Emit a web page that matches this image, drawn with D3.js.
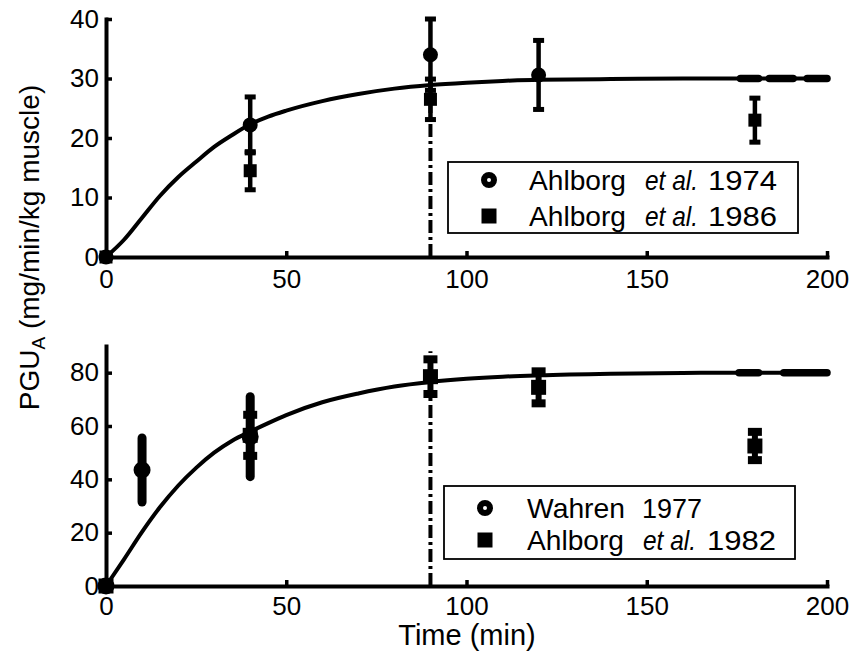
<!DOCTYPE html>
<html>
<head>
<meta charset="utf-8">
<script src="https://cdn.jsdelivr.net/npm/d3@7"></script>
<style>
  html, body { margin: 0; padding: 0; background: #fff; }
  svg { display: block; font-family: "Liberation Sans", Arial, Helvetica, sans-serif; }
</style>
</head>
<body>
<svg id="chart" width="855" height="656"></svg>
<script>
// Model time grid (min) and the two fitted PGU_A curves
const timeGrid    = [0, 5, 10, 15, 20, 25, 30, 35, 40, 45, 50, 60, 70, 80, 90, 100, 110, 120, 140, 160, 180, 200];
const topModel    = [0, 2.9, 6.6, 10.3, 13.4, 16.0, 18.5, 20.5, 22.3, 23.6, 24.6, 26.2, 27.4, 28.3, 28.9, 29.3, 29.6, 29.8, 29.9, 30, 30, 30];
const bottomModel = [0, 10.0, 20.3, 29.6, 37.6, 44.3, 50.0, 54.5, 57.9, 61.1, 64.1, 68.9, 72.2, 74.8, 76.5, 77.7, 78.5, 79.0, 79.6, 79.9, 80, 80];

// Heavier stretches of the plateau line (min)
const topHeavy    = [[176, 181], [184, 190.6], [194.5, 200]];
const bottomHeavy = [[175.6, 181], [188, 200]];

// Exercise end marker (min)
const exerciseEnd = 90;

// Ahlborg et al. 1974 (top, circles)
const a74Time = [0, 40, 90, 120];
const a74Mean = [0, 22.2, 34.0, 30.6];
const a74Err  = [0, 4.7, 6.0, 5.8];

// Ahlborg et al. 1986 (top, squares)
const a86Time = [0, 40, 90, 180];
const a86Mean = [0, 14.5, 26.5, 23.0];
const a86Err  = [0, 3.2, 3.4, 3.7];

// Wahren 1977 (bottom, circles)
const w77Time = [0, 10, 40];
const w77Mean = [0, 43.5, 56.0];
const w77Err  = [0, 12.0, 15.0];

// Ahlborg et al. 1982 (bottom, squares)
const a82Time = [0, 40, 90, 120, 180];
const a82Mean = [0, 56.5, 78.5, 74.5, 52.5];
const a82Err  = [0, 7.7, 6.5, 6.0, 5.3];

const xTicks       = [0, 50, 100, 150, 200];
const topYTicks    = [0, 10, 20, 30, 40];
const bottomYTicks = [0, 20, 40, 60, 80];

const svg = d3.select("#chart");

const x = d3.scaleLinear().domain([0, 200]).range([106, 827]);
const yTop = d3.scaleLinear().domain([0, 40]).range([257, 19]);
const yBot = d3.scaleLinear().domain([0, 90]).range([586, 346]);

function zipSeries(t, m, e) {
  return t.map((d, i) => ({ t: d, v: m[i], e: e[i] }));
}

function drawPanel(cfg) {
  const g = svg.append("g");
  const y = cfg.y;
  const y1 = y.domain()[1];

  // dash-dot line at end of exercise
  g.append("line")
    .attr("x1", x(exerciseEnd)).attr("x2", x(exerciseEnd))
    .attr("y1", y(0)).attr("y2", y(cfg.dashTop))
    .attr("stroke", "#000").attr("stroke-width", 4)
    .attr("stroke-dasharray", "13,4,3,4");

  // model curve
  const pts = timeGrid.map((t, i) => [t, cfg.model[i]]);
  g.append("path")
    .datum(pts)
    .attr("fill", "none").attr("stroke", "#000").attr("stroke-width", 4)
    .attr("stroke-linejoin", "round")
    .attr("d", d3.line().x(d => x(d[0])).y(d => y(d[1])).curve(d3.curveMonotoneX));

  const plateau = cfg.model[cfg.model.length - 1];
  g.selectAll(".heavy").data(cfg.heavy).join("line")
    .attr("x1", d => x(d[0])).attr("x2", d => x(d[1]))
    .attr("y1", y(plateau)).attr("y2", y(plateau))
    .attr("stroke", "#000").attr("stroke-width", 7.5).attr("stroke-linecap", "round");

  // error bars
  cfg.series.forEach(s => {
    const data = zipSeries(s.t, s.m, s.e).filter(d => d.e > 0);
    const eb = g.append("g");
    eb.selectAll("line").data(data).join("line")
      .attr("x1", d => x(d.t)).attr("x2", d => x(d.t))
      .attr("y1", d => y(Math.min(d.v + d.e, y1))).attr("y2", d => y(d.v - d.e))
      .attr("stroke", "#000").attr("stroke-width", s.barW)
      .attr("stroke-linecap", s.capW ? "butt" : "round");
    if (s.capW) {
      const caps = data.flatMap(d => [Math.min(d.v + d.e, y1), d.v - d.e].map(v => ({ t: d.t, v })));
      eb.selectAll("rect").data(caps).join("rect")
        .attr("x", d => x(d.t) - s.capW / 2).attr("y", d => y(d.v) - s.capH / 2)
        .attr("width", s.capW).attr("height", s.capH)
        .attr("fill", "#000");
    }
  });

  // markers
  cfg.series.forEach(s => {
    const data = zipSeries(s.t, s.m, s.e);
    if (s.shape === "circle") {
      g.append("g").selectAll("circle").data(data).join("circle")
        .attr("cx", d => x(d.t)).attr("cy", d => y(d.v)).attr("r", s.size / 2)
        .attr("fill", "#000");
    } else {
      g.append("g").selectAll("rect").data(data).join("rect")
        .attr("x", d => x(d.t) - s.size / 2).attr("y", d => y(d.v) - s.size / 2)
        .attr("width", s.size).attr("height", s.size)
        .attr("fill", "#000");
    }
  });

  // axes
  const xAxis = d3.axisBottom(x).tickValues(xTicks).tickSize(-6).tickSizeOuter(0).tickPadding(cfg.xPad);
  const yAxis = d3.axisLeft(y).tickValues(cfg.yTicks).tickSize(-6).tickSizeOuter(0).tickPadding(7);

  const ax = g.append("g").attr("transform", `translate(0,${y(0)})`).call(xAxis);
  const ay = g.append("g").attr("transform", `translate(${x(0)},0)`).call(yAxis);
  [ax, ay].forEach(a => {
    a.select(".domain").attr("stroke", "#000").attr("stroke-width", 4).attr("stroke-linecap", "square");
    a.selectAll(".tick line").attr("stroke", "#000").attr("stroke-width", 3.5);
    a.selectAll(".tick text").attr("fill", "#000").style("font-size", "26px")
      .style("font-family", "'Liberation Sans', Arial, sans-serif");
  });

  // legend
  const L = cfg.legend;
  const lg = g.append("g");
  lg.append("rect")
    .attr("x", L.x).attr("y", L.y).attr("width", L.w).attr("height", L.h)
    .attr("fill", "#fff").attr("stroke", "#000").attr("stroke-width", 1.8);
  L.rows.forEach((r, i) => {
    const cy = L.rowY[i];
    if (r.shape === "circle") {
      lg.append("circle").attr("cx", L.markX).attr("cy", cy).attr("r", 5)
        .attr("fill", "#fff").attr("stroke", "#000").attr("stroke-width", 6);
    } else {
      lg.append("rect").attr("x", L.markX - 7.5).attr("y", cy - 7.5)
        .attr("width", 15).attr("height", 15).attr("fill", "#000");
    }
    const base = cy + 10;
    const txt = (xx, s, len, italic) => {
      const t = lg.append("text").attr("x", xx).attr("y", base).attr("font-size", 28).text(s)
        .attr("textLength", len).attr("lengthAdjust", "spacingAndGlyphs");
      if (italic) t.attr("font-style", "italic");
    };
    txt(L.textX, r.author, r.authorLen, false);
    if (r.etal) {
      txt(L.etalX, "et al.", 53, true);
      txt(L.yearX, r.year, 69, false);
    } else {
      txt(L.yearAltX, r.year, 60, false);
    }
  });
}

drawPanel({
  y: yTop, model: topModel, heavy: topHeavy, yTicks: topYTicks, xPad: 13, dashTop: 30,
  series: [
    { t: a74Time, m: a74Mean, e: a74Err, shape: "circle", size: 15, barW: 4.5, capW: 11, capH: 5 },
    { t: a86Time, m: a86Mean, e: a86Err, shape: "square", size: 13, barW: 4.5, capW: 11, capH: 5 }
  ],
  legend: {
    x: 448, y: 162, w: 350, h: 71, markX: 489, rowY: [180, 216],
    textX: 529, etalX: 645, yearX: 708, yearAltX: 642,
    rows: [
      { shape: "circle", author: "Ahlborg", authorLen: 97, etal: true, year: "1974" },
      { shape: "square", author: "Ahlborg", authorLen: 97, etal: true, year: "1986" }
    ]
  }
});

drawPanel({
  y: yBot, model: bottomModel, heavy: bottomHeavy, yTicks: bottomYTicks, xPad: 11, dashTop: 88,
  series: [
    { t: w77Time, m: w77Mean, e: w77Err, shape: "circle", size: 17, barW: 9, capW: 0, capH: 0 },
    { t: a82Time, m: a82Mean, e: a82Err, shape: "square", size: 15, barW: 6, capW: 14, capH: 8 }
  ],
  legend: {
    x: 444, y: 486, w: 351, h: 73, markX: 485, rowY: [508, 540],
    textX: 527, etalX: 643, yearX: 707, yearAltX: 642,
    rows: [
      { shape: "circle", author: "Wahren", authorLen: 98, etal: false, year: "1977" },
      { shape: "square", author: "Ahlborg", authorLen: 97, etal: true, year: "1982" }
    ]
  }
});

// shared axis titles
const yl = svg.append("text")
  .attr("transform", "translate(39,247.5) rotate(-90)")
  .attr("text-anchor", "middle").attr("font-size", 28);
yl.append("tspan").text("PGU");
yl.append("tspan").attr("font-size", 19).attr("baseline-shift", "-6").text("A");
yl.append("tspan").text(" (mg/min/kg muscle)");

svg.append("text")
  .attr("x", 467).attr("y", 645).attr("text-anchor", "middle").attr("font-size", 29)
  .text("Time (min)");
</script>
</body>
</html>
